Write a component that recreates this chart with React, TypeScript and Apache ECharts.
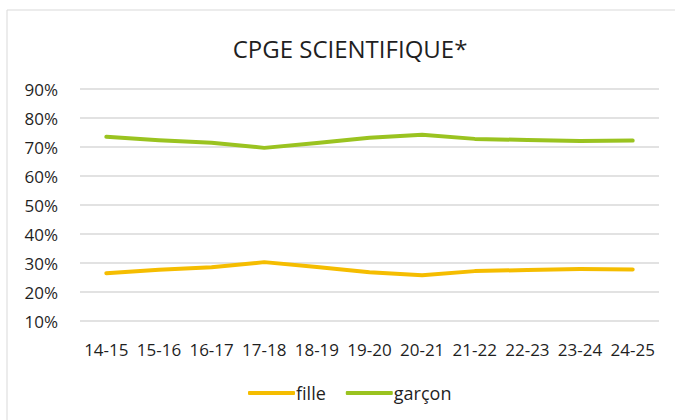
import React, { useEffect, useRef } from "react";
import * as echarts from "echarts";

const categories = ["14-15", "15-16", "16-17", "17-18", "18-19", "19-20", "20-21", "21-22", "22-23", "23-24", "24-25"];
const fille = [26.5, 27.7, 28.5, 30.3, 28.6, 26.8, 25.8, 27.2, 27.6, 27.9, 27.8];
const garcon = [73.5, 72.3, 71.5, 69.7, 71.4, 73.2, 74.2, 72.8, 72.4, 72.1, 72.2];
const yTicks = [10, 20, 30, 40, 50, 60, 70, 80, 90];

const FONT = "'Open Sans', Lato, sans-serif";

export default function App() {
  const ref = useRef<HTMLDivElement>(null);
  useEffect(() => {
    document.body.style.margin = "0";
    if (!ref.current) return;
    const chart = echarts.init(ref.current, null, { renderer: "svg" });
    chart.setOption({
      animation: false,
      backgroundColor: "#ffffff",
      textStyle: { fontFamily: FONT },
      title: {
        text: "CPGE SCIENTIFIQUE*",
        left: 345,
        textAlign: "center",
        top: 31,
        textStyle: { fontFamily: FONT, fontSize: 24, fontWeight: "normal", color: "#1f1f1f" },
      },
      graphic: [
        {
          type: "rect",
          shape: { x: 7, y: 10, width: 700, height: 430 },
          style: { fill: "none", stroke: "#d9d9d9", lineWidth: 1 },
          silent: true,
          z: -1,
        },
      ],
      legend: {
        bottom: 13,
        left: 243,
        icon: "roundRect",
        itemWidth: 47,
        itemHeight: 4,
        itemGap: 20,
        textStyle: { fontFamily: FONT, fontSize: 18, color: "#1f1f1f", padding: [0, 0, 0, -4] },
        data: ["fille", "garçon"],
      },
      grid: { left: 80, right: 16, top: 89, bottom: 99, containLabel: false },
      xAxis: {
        type: "category",
        data: categories,
        boundaryGap: true,
        axisLine: { show: false },
        axisTick: { show: false },
        axisLabel: { fontFamily: FONT, fontSize: 17, color: "#1f1f1f", margin: 20, interval: 0 },
      },
      yAxis: {
        type: "value",
        min: yTicks[0],
        max: yTicks[yTicks.length - 1],
        interval: 10,
        axisLabel: { fontFamily: FONT, fontSize: 17, color: "#1f1f1f", formatter: "{value}%", margin: 22 },
        splitLine: { lineStyle: { color: "#d9d9d9", width: 1.5 } },
        axisLine: { show: false },
        axisTick: { show: false },
      },
      series: [
        {
          name: "fille",
          type: "line",
          data: fille,
          symbol: "none",
          lineStyle: { color: "#F5BD00", width: 4, cap: "round", join: "round" },
          itemStyle: { color: "#F5BD00" },
        },
        {
          name: "garçon",
          type: "line",
          data: garcon,
          symbol: "none",
          lineStyle: { color: "#9AC320", width: 4, cap: "round", join: "round" },
          itemStyle: { color: "#9AC320" },
        },
      ],
    });
    return () => chart.dispose();
  }, []);
  return <div ref={ref} style={{ width: 675, height: 420, position: "absolute", left: 0, top: 0 }} />;
}
